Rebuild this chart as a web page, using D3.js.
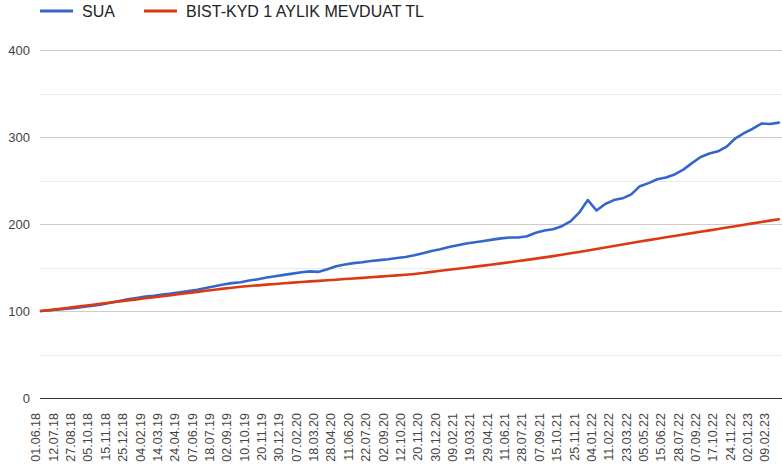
<!DOCTYPE html>
<html>
<head>
<meta charset="utf-8">
<script src="https://cdn.jsdelivr.net/npm/d3@7"></script>
<style>
  html, body { margin: 0; padding: 0; background: #fff; }
  svg { display: block; font-family: "Liberation Sans", Arial, sans-serif; }
</style>
</head>
<body>
<svg id="chart" width="782" height="466"></svg>
<script>
// ---- data ----
const seriesNames = ["SUA", "BIST-KYD 1 AYLIK MEVDUAT TL"];
const seriesColors = ["#3366cc", "#dc3912"];
const tickLabels = ["01.06.18","12.07.18","27.08.18","05.10.18","15.11.18","25.12.18",
  "04.02.19","14.03.19","24.04.19","07.06.19","18.07.19","02.09.19","10.10.19","20.11.19","30.12.19",
  "07.02.20","18.03.20","28.04.20","11.06.20","22.07.20","02.09.20","12.10.20","20.11.20","30.12.20",
  "09.02.21","19.03.21","29.04.21","11.06.21","28.07.21","07.09.21","15.10.21","25.11.21",
  "04.01.22","11.02.22","23.03.22","05.05.22","15.06.22","28.07.22","07.09.22","17.10.22","24.11.22",
  "02.01.23","09.02.23"];
// two samples per labelled interval (label i = sample 2*i)
const sua = [100,100.8,101.8,102.5,103.5,104.8,106,107.5,109.5,111.5,
  113.5,115,116.5,117.5,119,120,121.5,123,124.5,126.5,
  128.5,130.5,132,133,135,136.5,138.5,140,141.5,143,
  144.5,145.5,145,148,151.5,153.5,155,156,157.5,158.5,
  159.5,161,162,164,166.5,169,171,173.5,175.5,177.5,
  179,180.5,182,183.5,184.5,184.5,186,190,192.5,194,
  197.5,203,213,227.5,215.5,223,227.5,229.5,234,243.5,
  247,251.5,253.5,257,262.5,270,277,281,283.5,289,
  298.5,304.5,309.5,315.5,315,316.5];
const mevduat = [100,101,102.2,103.5,104.7,106,107.2,108.5,109.7,111,
  112.2,113.4,114.6,115.8,117,118.2,119.5,120.8,122,123.3,
  124.5,125.7,126.8,127.8,128.7,129.5,130.3,131.1,131.9,132.6,
  133.3,134,134.6,135.3,136,136.7,137.4,138.1,138.8,139.5,
  140.2,140.9,141.7,142.6,143.6,145,146.2,147.4,148.6,149.8,
  151,152.2,153.4,154.7,156,157.4,158.8,160.2,161.6,163.1,
  164.7,166.3,167.9,169.6,171.3,173,174.7,176.4,178.1,179.8,
  181.5,183.1,184.7,186.3,187.9,189.5,191.1,192.7,194.3,195.9,
  197.5,199.1,200.7,202.3,203.9,205.5];
const yTicks = [0, 100, 200, 300, 400];
const yMinor = [50, 150, 250, 350];

// ---- layout ----
const svg = d3.select("#chart");
const plotLeft = 41, plotRight = 778.8, plotTop = 50, plotBottom = 398;
const x = d3.scaleLinear().domain([0, sua.length - 1]).range([plotLeft, plotRight]);
const y = d3.scaleLinear().domain([0, 400]).range([plotBottom, plotTop]);

// minor grid
svg.append("g").selectAll("line").data(yMinor).join("line")
  .attr("x1", 40).attr("x2", 782)
  .attr("y1", d => Math.round(y(d)) + 0.5).attr("y2", d => Math.round(y(d)) + 0.5)
  .attr("stroke", "#ebebeb").attr("stroke-width", 1);
// major grid
svg.append("g").selectAll("line").data(yTicks.filter(d => d !== 0)).join("line")
  .attr("x1", 40).attr("x2", 782)
  .attr("y1", d => Math.round(y(d)) + 0.5).attr("y2", d => Math.round(y(d)) + 0.5)
  .attr("stroke", "#cccccc").attr("stroke-width", 1);

// y labels
svg.append("g").selectAll("text").data(yTicks).join("text")
  .attr("x", 30).attr("y", d => y(d)).attr("dy", "0.36em")
  .attr("text-anchor", "end").attr("font-size", 13).attr("fill", "#444")
  .text(d => d);

// lines
const line = d3.line().x((d, i) => x(i)).y(d => y(d));
[sua, mevduat].forEach((s, k) => {
  svg.append("path").datum(s)
    .attr("fill", "none").attr("stroke", seriesColors[k])
    .attr("stroke-width", 2.6).attr("stroke-linejoin", "round").attr("stroke-linecap", "round")
    .attr("d", line);
});

// baseline
svg.append("line").attr("x1", 40).attr("x2", 782)
  .attr("y1", Math.round(y(0)) + 0.5).attr("y2", Math.round(y(0)) + 0.5)
  .attr("stroke", "#333").attr("stroke-width", 1);

// x labels (rotated)
svg.append("g").selectAll("text").data(tickLabels).join("text")
  .attr("transform", (d, i) => `translate(${x(2 * i) - 5},413) rotate(-90)`)
  .attr("dy", "0.35em").attr("text-anchor", "end")
  .attr("font-size", 12.5).attr("fill", "#444")
  .text(d => d);

// legend
const legendX = [40, 144];
seriesNames.forEach((n, k) => {
  svg.append("line").attr("x1", legendX[k]).attr("x2", legendX[k] + 33)
    .attr("y1", 11).attr("y2", 11)
    .attr("stroke", seriesColors[k]).attr("stroke-width", 3);
  svg.append("text").attr("x", legendX[k] + 42).attr("y", 11).attr("dy", "0.36em")
    .attr("font-size", 16).attr("fill", "#222").text(n);
});
</script>
</body>
</html>
